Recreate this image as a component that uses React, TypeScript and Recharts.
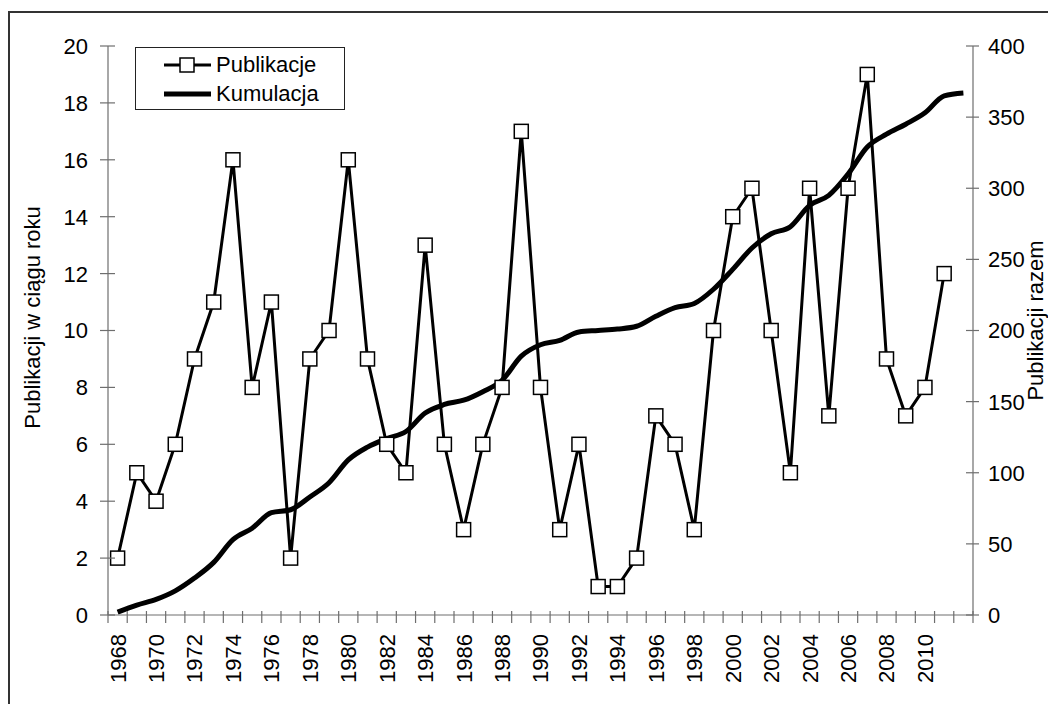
import React from "react";
import { ComposedChart, Line, XAxis, YAxis, Legend } from "recharts";

const years = [
  1968, 1969, 1970, 1971, 1972, 1973, 1974, 1975, 1976, 1977, 1978, 1979, 1980, 1981, 1982,
  1983, 1984, 1985, 1986, 1987, 1988, 1989, 1990, 1991, 1992, 1993, 1994, 1995, 1996, 1997,
  1998, 1999, 2000, 2001, 2002, 2003, 2004, 2005, 2006, 2007, 2008, 2009, 2010, 2011, 2012,
];

// Publications per year (no marker for the last year)
const publikacje: (number | null)[] = [
  2, 5, 4, 6, 9, 11, 16, 8, 11, 2, 9, 10, 16, 9, 6, 5, 13, 6, 3, 6, 8, 17, 8, 3, 6, 1, 1, 2, 7,
  6, 3, 10, 14, 15, 10, 5, 15, 7, 15, 19, 9, 7, 8, 12, null,
];

// Running total
const kumulacja = [
  2, 7, 11, 17, 26, 37, 53, 61, 72, 74, 83, 93, 109, 118, 124, 129, 142, 148, 151, 157, 165,
  182, 190, 193, 199, 200, 201, 203, 210, 216, 219, 229, 243, 258, 268, 273, 288, 295, 310, 329,
  338, 345, 353, 365, 367,
];

const leftTicks = [0, 2, 4, 6, 8, 10, 12, 14, 16, 18, 20];
const rightTicks = [0, 50, 100, 150, 200, 250, 300, 350, 400];
const yearLabels = years.filter((y) => y % 2 === 0 && y < 2012);

const rows = years.map((year, i) => ({
  year,
  pub: publikacje[i],
  cum: kumulacja[i],
}));

// tick marks sit between categories, labels at category centres
const boundaries = [...years.map((y) => y - 0.5), years[years.length - 1] + 0.5];
const xTicks = [...boundaries, ...yearLabels].sort((a, b) => a - b);

const FONT = "'Liberation Sans', Arial, sans-serif";
const AXIS = "#6e6e6e";

const SquareDot = (props: any) => {
  const { cx, cy, payload } = props;
  if (cx == null || cy == null || payload.pub == null) return null;
  return (
    <rect
      key={`d-${payload.year}`}
      x={cx - 7}
      y={cy - 7}
      width={14}
      height={14}
      fill="#fff"
      stroke="#000"
      strokeWidth={1.5}
    />
  );
};

const LeftTick = (props: any) => {
  const { x, y, payload } = props;
  return (
    <g>
      <line x1={x - 8} x2={x + 7} y1={y} y2={y} stroke={AXIS} strokeWidth={1.2} />
      <text x={x - 20} y={y} dy="0.36em" textAnchor="end" fontSize={22} fontFamily={FONT} fill="#000">
        {payload.value}
      </text>
    </g>
  );
};

const RightTick = (props: any) => {
  const { x, y, payload } = props;
  return (
    <g>
      <line x1={x - 7} x2={x + 6} y1={y} y2={y} stroke={AXIS} strokeWidth={1.2} />
      <text x={x + 15} y={y} dy="0.36em" textAnchor="start" fontSize={22} fontFamily={FONT} fill="#000">
        {payload.value}
      </text>
    </g>
  );
};

const YearTick = (props: any) => {
  const { x, y, payload } = props;
  const v = payload.value as number;
  if (!Number.isInteger(v)) {
    return <line x1={x} x2={x} y1={y - 4} y2={y + 8} stroke={AXIS} strokeWidth={1.2} />;
  }
  return (
    <text
      transform={`translate(${x},${y + 19}) rotate(-90)`}
      dy="0.36em"
      textAnchor="end"
      fontSize={22}
      fontFamily={FONT}
      fill="#000"
    >
      {v}
    </text>
  );
};

const renderLegend = () => (
  <div
    style={{
      width: 208,
      height: 61,
      border: "1px solid #222",
      background: "#fff",
      fontFamily: FONT,
      fontSize: 22,
      position: "relative",
    }}
  >
    <svg width={80} height={61} style={{ position: "absolute", left: 0, top: 0 }}>
      <line x1={28} x2={75} y1={17} y2={17} stroke="#000" strokeWidth={3} />
      <rect x={44} y={10} width={14} height={14} fill="#fff" stroke="#000" strokeWidth={1.5} />
      <line x1={28} x2={75} y1={46} y2={46} stroke="#000" strokeWidth={5} />
    </svg>
    <div style={{ position: "absolute", left: 80, top: 17, transform: "translateY(-50%)", lineHeight: 1 }}>
      Publikacje
    </div>
    <div style={{ position: "absolute", left: 80, top: 46, transform: "translateY(-50%)", lineHeight: 1 }}>
      Kumulacja
    </div>
  </div>
);

export default function App() {
  return (
    <div style={{ position: "relative", width: 1048, height: 696 }}>
      <div style={{ position: "absolute", left: 0, top: 3, width: 1048, height: 2, background: "#333" }} />
      <div style={{ position: "absolute", left: 0, top: 3, width: 2, height: 693, background: "#333" }} />
      <ComposedChart
        width={1048}
        height={690}
        data={rows}
        margin={{ top: 38, right: 23, left: 40, bottom: 23 }}
      >
        <XAxis
          dataKey="year"
          type="number"
          domain={[1967.5, 2012.5]}
          ticks={xTicks}
          interval={0}
          tick={<YearTick />}
          tickLine={false}
          tickSize={0}
          tickMargin={0}
          height={60}
          axisLine={{ stroke: AXIS, strokeWidth: 1.2 }}
        />
        <YAxis
          yAxisId="left"
          domain={[0, 20]}
          ticks={leftTicks}
          interval={0}
          width={60}
          tick={<LeftTick />}
          tickLine={false}
          tickSize={0}
          tickMargin={0}
          axisLine={{ stroke: AXIS, strokeWidth: 1.2 }}
          label={{
            content: (p: any) => {
              const vb = p.viewBox;
              const cx = vb.x - 16;
              const cy = vb.y + vb.height / 2 - 13;
              return (
                <text
                  transform={`translate(${cx},${cy}) rotate(-90)`}
                  dy="0.36em"
                  textAnchor="middle"
                  fontSize={22}
                  fontFamily={FONT}
                  fill="#000"
                >
                  Publikacji w ciągu roku
                </text>
              );
            },
          }}
        />
        <YAxis
          yAxisId="right"
          orientation="right"
          domain={[0, 400]}
          ticks={rightTicks}
          interval={0}
          width={60}
          tick={<RightTick />}
          tickLine={false}
          tickSize={0}
          tickMargin={0}
          axisLine={{ stroke: AXIS, strokeWidth: 1.2 }}
          label={{
            content: (p: any) => {
              const vb = p.viewBox;
              const cx = vb.x + 62;
              const cy = vb.y + vb.height / 2 - 10;
              return (
                <text
                  transform={`translate(${cx},${cy}) rotate(-90)`}
                  dy="0.36em"
                  textAnchor="middle"
                  fontSize={22}
                  fontFamily={FONT}
                  fill="#000"
                >
                  Publikacji razem
                </text>
              );
            },
          }}
        />
        <Legend
          layout="vertical"
          align="center"
          verticalAlign="middle"
          content={renderLegend}
          wrapperStyle={{ left: 127, top: 39, width: 210, height: 63 }}
        />
        <Line
          yAxisId="right"
          dataKey="cum"
          name="Kumulacja"
          type="monotone"
          stroke="#000"
          strokeWidth={5}
          dot={false}
          isAnimationActive={false}
        />
        <Line
          yAxisId="left"
          dataKey="pub"
          name="Publikacje"
          type="linear"
          stroke="#000"
          strokeWidth={3}
          dot={<SquareDot />}
          activeDot={false}
          connectNulls={false}
          isAnimationActive={false}
        />
      </ComposedChart>
    </div>
  );
}
